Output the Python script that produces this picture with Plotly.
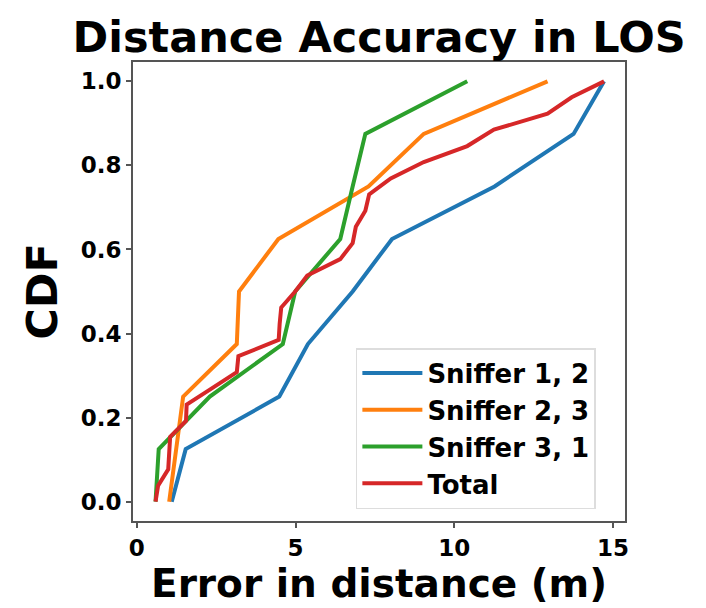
import plotly.graph_objects as go

# Sniffer 1, 2
s12_x = [1.10, 1.54, 4.49, 5.39, 6.80, 8.04, 11.27, 13.76, 14.72]
s12_y = [0.0, 0.125, 0.25, 0.375, 0.5, 0.625, 0.75, 0.875, 1.0]
# Sniffer 2, 3
s23_x = [1.02, 1.25, 1.46, 3.15, 3.22, 4.46, 7.30, 9.04, 12.94]
s23_y = [0.0, 0.125, 0.25, 0.375, 0.5, 0.625, 0.75, 0.875, 1.0]
# Sniffer 3, 1
s31_x = [0.59, 0.69, 2.30, 4.60, 4.99, 6.41, 6.80, 7.20, 10.41]
s31_y = [0.0, 0.125, 0.25, 0.375, 0.5, 0.625, 0.75, 0.875, 1.0]
# Total
tot_x = [0.59, 0.67, 0.99, 1.03, 1.05, 1.55, 1.57, 2.35, 3.15, 3.20, 4.47, 4.50,
         4.55, 4.99, 5.37, 6.41, 6.80, 6.90, 7.20, 7.32, 8.00, 9.04, 10.41, 11.25,
         12.94, 13.70, 14.72]
tot_y = [0.0, 0.038, 0.077, 0.115, 0.154, 0.192, 0.231, 0.269, 0.308, 0.346, 0.385,
         0.423, 0.462, 0.5, 0.538, 0.577, 0.615, 0.654, 0.692, 0.731, 0.769, 0.808,
         0.846, 0.885, 0.923, 0.962, 1.0]

names = ["Sniffer 1, 2", "Sniffer 2, 3", "Sniffer 3, 1", "Total"]
colors = ["#1f77b4", "#ff7f0e", "#2ca02c", "#d62728"]
xs = [s12_x, s23_x, s31_x, tot_x]
ys = [s12_y, s23_y, s31_y, tot_y]

x_ticks = [0, 5, 10, 15]
y_ticks = [0.0, 0.2, 0.4, 0.6, 0.8, 1.0]

FONT = "DejaVu Sans"

fig = go.Figure()
for i, (n, c, x, y) in enumerate(zip(names, colors, xs, ys)):
    fig.add_trace(go.Scatter(x=x, y=y, mode="lines", name=n, legendgroup=f"g{i}",
                             line=dict(color=c, width=4)))

axis_common = dict(showline=True, mirror=True, linecolor="#555555", linewidth=2,
                   ticks="outside", ticklen=5, tickwidth=1.5, tickcolor="#555555",
                   showgrid=False, zeroline=False, automargin=False,
                   tickfont=dict(family=FONT, size=23, color="black", weight="bold"))

fig.update_layout(
    width=706, height=608,
    margin=dict(l=133, r=81, t=62, b=87),
    paper_bgcolor="white", plot_bgcolor="white",
    title=dict(text="<b>Distance Accuracy in LOS</b>", x=0.537, xanchor="center",
               y=1 - 37 / 608, yanchor="middle", yref="container",
               font=dict(family=FONT, size=43, color="black")),
    xaxis=dict(range=[-0.12, 15.38], tickvals=x_ticks, ticktext=[str(v) for v in x_ticks],
               **axis_common),
    yaxis=dict(range=[-0.046, 1.046], tickvals=y_ticks, ticktext=[f"{v:.1f}" for v in y_ticks],
               title=dict(text="<b>CDF</b>", standoff=10,
                          font=dict(family=FONT, size=43, color="black")),
               **axis_common),
    legend=dict(x=0.453, y=0.026, xanchor="left", yanchor="bottom",
                bgcolor="white", bordercolor="#dddddd", borderwidth=1.5,
                tracegroupgap=0, itemwidth=60,
                font=dict(family=FONT, size=26, color="black", weight="bold")),
    showlegend=True,
)

fig.add_annotation(text="<b>Error in distance (m)</b>", xref="paper", yref="paper",
                   x=0.5, y=-(608 - 521) / 459, xanchor="center", yanchor="bottom",
                   showarrow=False, font=dict(family=FONT, size=39, color="black"))

fig.write_html("out.html")
